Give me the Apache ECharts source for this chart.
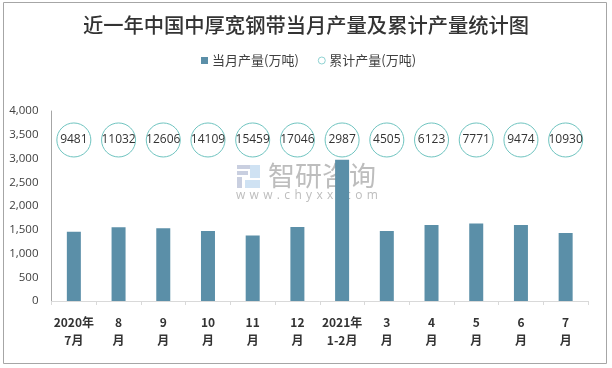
<!DOCTYPE html>
<html><head><meta charset="utf-8">
<script src="https://cdn.jsdelivr.net/npm/echarts@6/dist/echarts.min.js"></script>
<style>html,body{margin:0;padding:0;background:#fff}#c{width:612px;height:368px}</style>
</head><body><div id="c"></div>
<script>
const categories = ['2020年\n7月','8\n月','9\n月','10\n月','11\n月','12\n月','2021年\n1-2月','3\n月','4\n月','5\n月','6\n月','7\n月'];
const monthly = [1459,1551,1530,1475,1380,1560,2975,1475,1600,1630,1600,1430];
const cumulative = [9481,11032,12606,14109,15459,17046,2987,4505,6123,7771,9474,10930];
const yTicks = {min:0,max:4000,interval:500};
const bubbleLevel = 3390;
const cjk = '"Noto Sans CJK SC"';
const chart = echarts.init(document.getElementById('c'),null,{renderer:'canvas'});
chart.setOption({
  animation:false,
  backgroundColor:'#fff',
  title:{text:'近一年中国中厚宽钢带当月产量及累计产量统计图',left:'center',top:15,
    textStyle:{fontFamily:cjk,fontSize:20.3,fontWeight:500,color:'#333'},padding:[0,0,0,0]},
  legend:{top:49,left:196,itemGap:19,itemWidth:7,itemHeight:7,
    textStyle:{fontFamily:cjk,fontSize:13,color:'#404040',padding:[0,0,0,-1]},
    data:[{name:'当月产量(万吨)',icon:'rect'},{name:'累计产量(万吨)',icon:'circle',itemStyle:{color:'#fff',borderColor:'#8fd3d3',borderWidth:1}}]},
  grid:{left:51.5,right:24,top:111,bottom:67},
  xAxis:{type:'category',data:categories,
    axisLine:{lineStyle:{color:'#d9d9d9',width:1}},
    axisTick:{show:true,alignWithLabel:false,length:4,lineStyle:{color:'#d9d9d9'}},
    axisLabel:{interval:0,margin:12,lineHeight:18,fontFamily:cjk,fontSize:12,fontWeight:'bold',color:'#333'}},
  yAxis:{type:'value',min:yTicks.min,max:yTicks.max,interval:yTicks.interval,
    axisLine:{show:true,lineStyle:{color:'#a6a6a6',width:1}},axisTick:{show:false},splitLine:{show:false},
    axisLabel:{margin:13,fontFamily:'"Open Sans"',fontSize:11.5,color:'#404040',
      formatter:v=>v.toLocaleString('en-US')}},
  series:[
    {name:'当月产量(万吨)',type:'bar',data:monthly,barWidth:14,z:2,
      itemStyle:{color:'#5b8fa8'}},
    {name:'累计产量(万吨)',type:'scatter',z:3,symbol:'circle',symbolSize:34,
      data:cumulative.map((v,i)=>({value:[i,bubbleLevel],label:{formatter:String(v)}})),
      itemStyle:{color:'#fff',borderColor:'#6fc4c0',borderWidth:1,opacity:1},
      label:{show:true,position:'inside',fontFamily:'"Open Sans"',fontSize:12,color:'#333'}}
  ],
  graphic:[
    {type:'rect',z:-1,shape:{x:3.5,y:2.5,width:603,height:361},style:{fill:'none',stroke:'#a6a6a6',lineWidth:1}},
    {type:'group',z:1,silent:true,children:[
      {type:'rect',shape:{x:237,y:165,width:15,height:4},style:{fill:'#c9cfe0'}},
      {type:'rect',shape:{x:237,y:171,width:11,height:4},style:{fill:'#c9cfe0'}},
      {type:'rect',shape:{x:237,y:177,width:5,height:11},style:{fill:'#c9cfe0'}},
      {type:'rect',shape:{x:250,y:165,width:10,height:13},style:{fill:'#cfe2f3'}},
      {type:'rect',shape:{x:245,y:180,width:15,height:8},style:{fill:'#cfe2f3'}},
      {type:'text',style:{x:268,y:162,text:'智研咨询',fontFamily:cjk,fontSize:27,fill:'#bdbdbd'}},
      {type:'text',style:{x:236,y:190,text:'w\u200a w\u200a w\u200a .\u200a c\u200a h\u200a y\u200a x\u200a x\u200a .\u200a c\u200a o\u200a m',fontFamily:'"Open Sans"',fontSize:12,fill:'#bdbdbd'}}
    ]}
  ]
});
</script></body></html>
